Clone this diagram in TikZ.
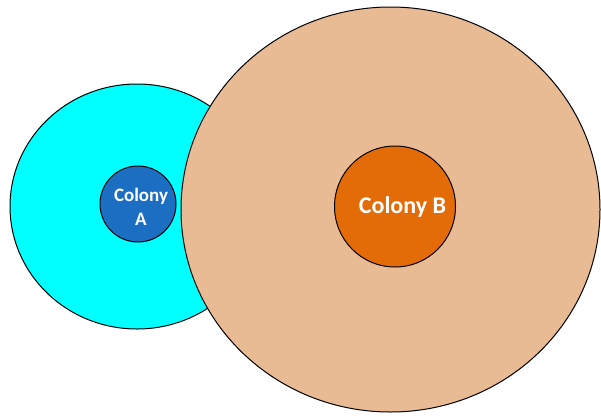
\documentclass[tikz,border=0pt]{standalone}
\usepackage{fontspec}
\setmainfont{Carlito}
\definecolor{cyanfill}{HTML}{00FFFF}
\definecolor{peach}{HTML}{E9BB95}
\definecolor{colAblue}{HTML}{1B6EC2}
\definecolor{colBorange}{HTML}{E36C09}
\tikzset{
  zone/.style={draw=black, line width=1pt},
  lbl/.style={text=white, font=\bfseries, align=center, inner sep=0pt}
}
\begin{document}
\begin{tikzpicture}[x=1pt,y=-1pt]
\useasboundingbox (0,0) rectangle (601,415);
% Colony A zone
\path[zone, fill=cyanfill] (137,206.5) ellipse [x radius=127, y radius=122.5];
\node[zone, fill=colAblue, circle, minimum size=76pt, inner sep=0pt] (colA) at (138,204) {};
\node[lbl, font=\fontsize{19}{24}\selectfont\bfseries] (colAtxt) at (141,207) {Colony\\A};
% Colony B zone
\path[zone, fill=peach] (390.5,209.5) ellipse [x radius=209.5, y radius=202.5];
\node[zone, fill=colBorange, circle, minimum size=121pt, inner sep=0pt] (colB) at (395,206.5) {};
\node[lbl, font=\fontsize{24}{28}\selectfont\bfseries] (colBtxt) at (402.5,207) {Colony B};
\end{tikzpicture}
\end{document}
